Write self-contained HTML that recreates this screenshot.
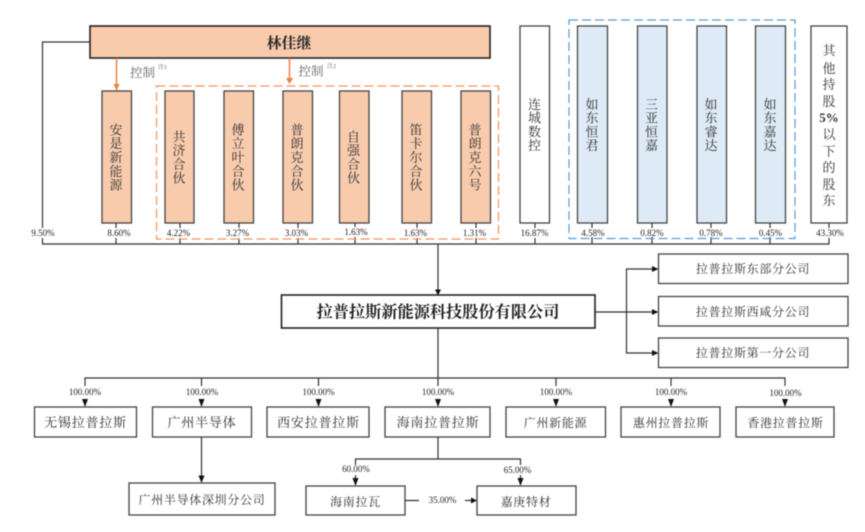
<!DOCTYPE html>
<html><head><meta charset="utf-8">
<style>
html,body{margin:0;padding:0;background:#fff;width:865px;height:532px;overflow:hidden}
svg{display:block;filter:blur(.4px)}
text{font-family:"Liberation Serif","Noto Serif CJK SC",serif;fill:#333}
.v{font-size:13px;writing-mode:vertical-rl;text-anchor:middle;letter-spacing:.8px;transform:translateX(-1.5px)}
.h{font-size:13px;text-anchor:middle;letter-spacing:.8px}
.s{font-size:12px;text-anchor:middle;letter-spacing:.7px}
.p{font-size:9px;text-anchor:middle;fill:#222}
.o{fill:#f8cbad;stroke:#444;stroke-width:1.3}
.b{fill:#deebf7;stroke:#444;stroke-width:1.3}
.w{fill:#fff;stroke:#444;stroke-width:1.3}
.l{fill:none;stroke:#333;stroke-width:1.2}
.a{fill:#111}
</style></head><body>
<svg width="865" height="532" viewBox="0 0 865 532" xmlns="http://www.w3.org/2000/svg">
<!-- top connectors -->
<path class="l" d="M90 42H42.500V244H829V223M116 223V244M180 223V244M239 223V244M298 223V244M355 223V244M417 223V244M476 223V244M535 223V244M592 223V244M652 223V244M711 223V244M770 223V244M438 244V291"/>
<path class="a" d="M435 289.500h6l-3 6z"/>

<!-- percent label backgrounds -->
<g fill="#fff">
<rect x="30" y="228" width="26" height="10"/>
<rect x="106" y="228" width="26" height="10"/>
<rect x="165" y="228" width="28" height="10"/>
<rect x="224" y="228" width="28" height="10"/>
<rect x="283" y="228" width="28" height="10"/>
<rect x="343" y="227" width="26" height="10"/>
<rect x="403" y="228" width="26" height="10"/>
<rect x="462" y="228" width="26" height="10"/>
<rect x="519" y="228" width="32" height="10"/>
<rect x="580" y="228" width="26" height="9"/>
<rect x="639" y="228" width="26" height="9"/>
<rect x="698" y="228" width="26" height="9"/>
<rect x="757" y="228" width="26" height="9"/>
<rect x="814" y="228" width="32" height="10"/>
</g>

<!-- dashed groups -->
<rect x="156.500" y="86" width="342" height="153" fill="none" stroke="#f4935a" stroke-width="1.200" stroke-dasharray="9 4"/>
<rect x="569" y="20" width="226" height="218.500" fill="none" stroke="#5b9bd5" stroke-width="1.200" stroke-dasharray="9 4"/>

<!-- top person -->
<rect x="90" y="26" width="400" height="32" fill="#f8cbad" stroke="#222" stroke-width="1.600"/>
<text x="289" y="48" style="font-size:15px;font-weight:700;text-anchor:middle;fill:#222">林佳继</text>

<!-- control arrows -->
<path d="M116.500 58V85M289.500 58V79" stroke="#f08040" stroke-width="1.500" fill="none"/>
<path d="M113.500 84h6l-3 7zM286 78h7l-3.500 6z" fill="#f08040"/>
<text x="130" y="77" style="font-size:12.500px;fill:#666">控制</text>
<text x="158" y="69" style="font-size:6px;fill:#666">注1</text>
<text x="298.500" y="75.500" style="font-size:12.500px;fill:#666">控制</text>
<text x="327" y="68" style="font-size:6px;fill:#666">注2</text>

<!-- orange boxes -->
<rect class="o" x="102" y="91" width="29.500" height="132"/>
<rect class="o" x="165" y="91" width="29" height="132"/>
<rect class="o" x="224" y="91" width="29.500" height="132"/>
<rect class="o" x="283" y="91" width="29.500" height="132"/>
<rect class="o" x="339.500" y="91" width="29.500" height="132"/>
<rect class="o" x="402" y="91" width="29.500" height="132"/>
<rect class="o" x="461" y="91" width="29.500" height="132"/>
<text class="v" x="116.500" y="157.500">安是新能源</text>
<text class="v" x="179.500" y="157.500">共济合伙</text>
<text class="v" x="238.500" y="157.500">傅立叶合伙</text>
<text class="v" x="297.500" y="157.500">普朗克合伙</text>
<text class="v" x="354" y="157.500">自强合伙</text>
<text class="v" x="416.500" y="157.500">笛卡尔合伙</text>
<text class="v" x="475.500" y="157.500">普朗克六号</text>

<!-- white/blue boxes -->
<rect class="w" x="520" y="26" width="29.500" height="197"/>
<text class="v" x="535" y="125">连城数控</text>
<rect class="b" x="577.500" y="26" width="30" height="197"/>
<rect class="b" x="637.500" y="26" width="29.500" height="197"/>
<rect class="b" x="697" y="26" width="29.500" height="197"/>
<rect class="b" x="755.500" y="26" width="30" height="197"/>
<text class="v" x="592.500" y="125">如东恒君</text>
<text class="v" x="652" y="125">三亚恒嘉</text>
<text class="v" x="711.500" y="125">如东睿达</text>
<text class="v" x="770.500" y="125">如东嘉达</text>
<rect class="w" x="811" y="26" width="36" height="197"/>
<g style="font-size:13px;text-anchor:middle">
<text x="829" y="55">其</text><text x="829" y="73">他</text><text x="829" y="89">持</text><text x="829" y="106">股</text>
<text x="829" y="122" style="font-weight:700">5%</text>
<text x="829" y="139">以</text><text x="829" y="156">下</text><text x="829" y="172">的</text><text x="829" y="189">股</text><text x="829" y="205">东</text>
</g>

<!-- percent labels -->
<text class="p" x="43" y="236">9.50%</text>
<text class="p" x="119" y="236">8.60%</text>
<text class="p" x="178.500" y="236">4.22%</text>
<text class="p" x="237.500" y="236">3.27%</text>
<text class="p" x="296.500" y="236">3.03%</text>
<text class="p" x="356" y="235">1.63%</text>
<text class="p" x="415.500" y="236">1.63%</text>
<text class="p" x="474.500" y="236">1.31%</text>
<text class="p" x="534.500" y="236">16.87%</text>
<text class="p" x="593" y="236">4.58%</text>
<text class="p" x="652" y="236">0.82%</text>
<text class="p" x="711" y="236">0.78%</text>
<text class="p" x="770.500" y="236">0.45%</text>
<text class="p" x="830" y="236">43.30%</text>

<!-- main company -->
<rect x="281.500" y="295" width="313.500" height="33" fill="#fff" stroke="#222" stroke-width="1.600"/>
<text x="438" y="317.500" style="font-size:16.200px;font-weight:700;text-anchor:middle;fill:#222">拉普拉斯新能源科技股份有限公司</text>

<!-- branch connectors -->
<path class="l" d="M595 312H653M626.500 312V269H653M626.500 312V353H653"/>
<path class="a" d="M652 266l6.500 3-6.500 3zM652 309l6.500 3-6.500 3zM652 350l6.500 3-6.500 3z"/>
<rect class="w" x="658.500" y="254" width="189.500" height="29.500"/>
<rect class="w" x="658.500" y="296.500" width="189.500" height="29.500"/>
<rect class="w" x="658.500" y="338" width="189.500" height="29.500"/>
<text class="s" x="753" y="273">拉普拉斯东部分公司</text>
<text class="s" x="753" y="316">拉普拉斯西咸分公司</text>
<text class="s" x="753" y="357">拉普拉斯第一分公司</text>

<!-- subsidiaries -->
<path class="l" d="M438 328V378M85 386V378H785V386M201.500 378V386M318.500 378V386M556 378V386M671 378V386M438 378V386"/>
<path class="a" d="M82 399h6l-3 8zM198.500 399h6l-3 8zM315.500 399h6l-3 8zM435 399h6l-3 8zM553 399h6l-3 8zM668 399h6l-3 8zM782 399h6l-3 8z"/>
<text class="p" x="85" y="395">100.00%</text>
<text class="p" x="202" y="395">100.00%</text>
<text class="p" x="318.500" y="395">100.00%</text>
<text class="p" x="438" y="395">100.00%</text>
<text class="p" x="556" y="395">100.00%</text>
<text class="p" x="671" y="395">100.00%</text>
<text class="p" x="785.500" y="396">100.00%</text>

<rect class="w" x="34.500" y="407" width="102" height="30"/>
<rect class="w" x="152.500" y="407" width="99" height="30"/>
<rect class="w" x="267" y="407" width="102" height="30"/>
<rect class="w" x="385" y="407" width="105" height="30"/>
<rect class="w" x="506" y="407" width="99.500" height="30"/>
<rect class="w" x="621" y="407" width="99" height="30"/>
<rect class="w" x="736" y="407" width="98" height="30"/>
<text class="h" x="85.500" y="427">无锡拉普拉斯</text>
<text class="h" x="202" y="427">广州半导体</text>
<text class="h" x="318.500" y="427">西安拉普拉斯</text>
<text class="h" x="438" y="427">海南拉普拉斯</text>
<text class="s" x="555.500" y="427">广州新能源</text>
<text class="s" x="671" y="427">惠州拉普拉斯</text>
<text class="s" x="785.500" y="427">香港拉普拉斯</text>

<!-- lower tier -->
<path class="l" d="M201.500 437V477"/>
<path class="a" d="M198.500 475.500h6l-3 7.500z"/>
<rect class="w" x="129" y="483" width="146" height="32"/>
<text class="s" x="202" y="504">广州半导体深圳分公司</text>

<path class="l" d="M438 437V459M355.500 465V459H520.500V465M355.500 475V479M520.500 475V479"/>
<path class="a" d="M352.500 478h6l-3 8zM517.500 478h6l-3 8z"/>
<text class="p" x="356" y="472">60.00%</text>
<text class="p" x="517.500" y="473">65.00%</text>
<rect class="w" x="306" y="486" width="99" height="29"/>
<rect class="w" x="477" y="486" width="99" height="29"/>
<text class="s" x="355.500" y="506">海南拉瓦</text>
<text class="s" x="526" y="506">嘉庚特材</text>
<path class="l" d="M405 500.500H419M465 500.500H472"/>
<path class="a" d="M471 497.500l6 3-6 3z"/>
<text class="p" x="442.500" y="503">35.00%</text>
</svg>
</body></html>
